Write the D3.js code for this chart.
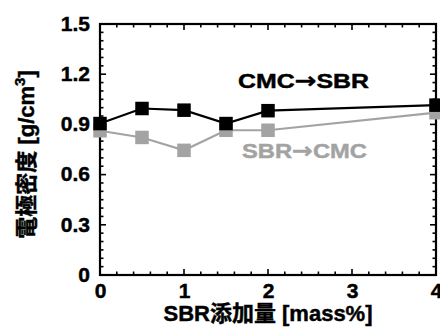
<!DOCTYPE html>
<html>
<head>
<meta charset="utf-8">
<script src="https://cdn.jsdelivr.net/npm/d3@7"></script>
<style>
  body { margin: 0; background: #fff; }
  svg { display: block; font-family: "Liberation Sans", Arial, "Noto Sans CJK JP", sans-serif; font-weight: bold; }
  .arrow { font-family: "DejaVu Sans", sans-serif; }
</style>
</head>
<body>
<div id="chart"></div>
<script>
// SBR content [mass%]
const sbrContent = [0, 0.5, 1, 1.5, 2, 4];
// electrode density [g/cm3]
const cmcFirst = [0.905, 0.995, 0.985, 0.905, 0.982, 1.015];
const sbrFirst = [0.862, 0.822, 0.745, 0.865, 0.865, 0.970];
const seriesNames = [['CMC', 'SBR'], ['SBR', 'CMC']];
const xTicks = [0, 1, 2, 3, 4];
const yTicks = [0, 0.3, 0.6, 0.9, 1.2, 1.5];

const width = 440, height = 327;
const margin = { top: 24, right: 4, bottom: 52, left: 100 };

const x = d3.scaleLinear().domain([0, 4]).range([margin.left, width - margin.right]);
const y = d3.scaleLinear().domain([0, 1.5]).range([height - margin.bottom, margin.top]);

const svg = d3.select('#chart').append('svg')
    .attr('width', width)
    .attr('height', height);

const heavy = (sel, color) => sel.attr('fill', color).attr('stroke', color).attr('stroke-width', 0.45);

// frame ticks (inward, with minor ticks)
const xMinor = d3.range(0, 4.001, 0.2);
const yMinor = d3.range(0, 1.5001, 0.05);

const tickGroup = svg.append('g').attr('stroke', '#000').attr('stroke-width', 1.6);
xMinor.forEach((v, i) => {
    const len = i % 5 === 0 ? 6 : 3.5;
    tickGroup.append('line').attr('x1', x(v)).attr('x2', x(v)).attr('y1', y(0)).attr('y2', y(0) - len);
    tickGroup.append('line').attr('x1', x(v)).attr('x2', x(v)).attr('y1', y(1.5)).attr('y2', y(1.5) + len);
});
yMinor.forEach((v, i) => {
    const len = i % 6 === 0 ? 6 : 3.5;
    tickGroup.append('line').attr('y1', y(v)).attr('y2', y(v)).attr('x1', x(0)).attr('x2', x(0) + len);
    tickGroup.append('line').attr('y1', y(v)).attr('y2', y(v)).attr('x1', x(4)).attr('x2', x(4) - len);
});

// tick labels via d3 axes
svg.append('g')
    .attr('transform', `translate(0,${y(0)})`)
    .call(d3.axisBottom(x).tickValues(xTicks).tickFormat(d3.format('d')).tickSize(0).tickPadding(8))
    .call(g => g.select('.domain').remove())
    .call(g => heavy(g.selectAll('text').attr('font-size', 21).attr('font-family', null), '#000'));

svg.append('g')
    .attr('transform', `translate(${x(0)},0)`)
    .call(d3.axisLeft(y).tickValues(yTicks).tickFormat(d => d === 0 ? '0' : d3.format('.1f')(d)).tickSize(0).tickPadding(10))
    .call(g => g.select('.domain').remove())
    .call(g => heavy(g.selectAll('text').attr('font-size', 21).attr('font-family', null).attr('dy', '0.3em'), '#000'));

// frame
svg.append('rect')
    .attr('x', x(0)).attr('y', y(1.5))
    .attr('width', x(4) - x(0)).attr('height', y(0) - y(1.5))
    .attr('fill', 'none').attr('stroke', '#000').attr('stroke-width', 2.2);

// series
const series = [
    { name: seriesNames[0], values: cmcFirst, color: '#000' },
    { name: seriesNames[1], values: sbrFirst, color: '#a3a3a3' }
];
const line = d3.line().x(d => x(d[0])).y(d => y(d[1]));
const ms = 13.5;

// gray drawn first, black on top
[series[1], series[0]].forEach(s => {
    const pts = sbrContent.map((v, i) => [v, s.values[i]]);
    svg.append('path').datum(pts)
        .attr('fill', 'none').attr('stroke', s.color).attr('stroke-width', 2.2)
        .attr('d', line);
    svg.append('g').selectAll('rect').data(pts).join('rect')
        .attr('x', d => x(d[0]) - ms / 2)
        .attr('y', d => y(d[1]) - ms / 2)
        .attr('width', ms).attr('height', ms)
        .attr('fill', s.color);
});

// series labels
function seriesLabel(parts, lx, ly, color, len) {
    const t = svg.append('text').attr('x', lx).attr('y', ly).attr('font-size', 21)
        .attr('textLength', len).attr('lengthAdjust', 'spacingAndGlyphs');
    heavy(t, color);
    t.append('tspan').text(parts[0]);
    t.append('tspan').attr('class', 'arrow').attr('font-size', 22).text('→');
    t.append('tspan').text(parts[1]);
}
seriesLabel(seriesNames[0], 238, 88, '#000', 131);
seriesLabel(seriesNames[1], 242, 158, '#a3a3a3', 125);

// axis titles
heavy(svg.append('text').attr('x', (x(0) + x(4)) / 2).attr('y', 321).attr('text-anchor', 'middle')
    .attr('font-size', 22).text('SBR添加量 [mass%]'), '#000');

const yt = svg.append('text')
    .attr('transform', `translate(34,${(y(0) + y(1.5)) / 2 + 5}) rotate(-90)`)
    .attr('text-anchor', 'middle').attr('font-size', 22);
heavy(yt, '#000');
yt.append('tspan').text('電極密度 [g/cm');
yt.append('tspan').attr('font-size', 15).attr('dy', -9).text('3');
yt.append('tspan').attr('dy', 9).text(']');
</script>
</body>
</html>
